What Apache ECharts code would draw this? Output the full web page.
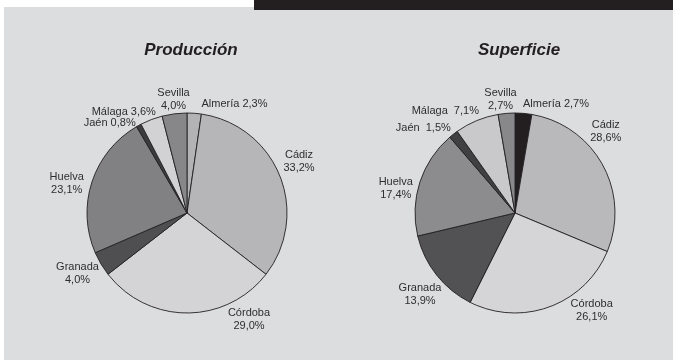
<!DOCTYPE html>
<html>
<head>
<meta charset="utf-8">
<script src="https://cdn.jsdelivr.net/npm/echarts@6/dist/echarts.min.js"></script>
<style>
html,body{margin:0;padding:0;background:#ffffff;}
#chart{width:673px;height:360px;}
</style>
</head>
<body>
<div id="chart"></div>
<script>
// ---- data ----
var provincias = ['Almería', 'Cádiz', 'Córdoba', 'Granada', 'Huelva', 'Jaén', 'Málaga', 'Sevilla'];
var produccion = [2.3, 33.2, 29.0, 4.0, 23.1, 0.8, 3.6, 4.0];
var superficie = [2.7, 28.6, 26.1, 13.9, 17.4, 1.5, 7.1, 2.7];
var titulos = ['Producción', 'Superficie'];

// ---- styles ----
var coloresProd = ['#b3b3b6', '#b6b6b9', '#d4d4d6', '#4f4f51', '#818184', '#3c3c3e', '#d2d2d4', '#87878a'];
var coloresSup  = ['#231f20', '#b9b9bc', '#d5d5d7', '#525254', '#8c8c8f', '#404042', '#c9c9cb', '#88888b'];
// label separators (one line / two lines)
var sepProd = [' ', '\n', '\n', '\n', '\n', ' ', ' ', '\n'];
var sepSup  = [' ', '\n', '\n', '\n', '\n', '  ', '  ', '\n'];
// label block centre offsets relative to pie centre (px)
var offProd = [[47.5,-109],[112,-52],[62,106],[-109.5,60.5],[-120.3,-29.5],[-77.3,-90],[-63.2,-101],[-13.5,-114]];
var offSup  = [[41,-109],[90.8,-81.5],[76.7,97.8],[-95,81],[-119.2,-24.3],[-91.7,-84.7],[-69.7,-102],[-14.5,-114]];
var centers = [[187, 213], [515, 213]];
var R = 100;

function fmt(v){ return v.toFixed(1).replace('.', ','); }

function buildData(vals, colors, seps){
  return provincias.map(function(n, i){
    return { name: n, value: vals[i], sep: seps[i], itemStyle: { color: colors[i] } };
  });
}

function makeSeries(idx, vals, colors, seps, offs){
  var c = centers[idx];
  return {
    type: 'pie',
    center: c,
    radius: [0, R],
    startAngle: 90,
    clockwise: true,
    avoidLabelOverlap: false,
    animation: false,
    silent: true,
    data: buildData(vals, colors, seps),
    itemStyle: { borderColor: '#231f20', borderWidth: 0.9 },
    label: {
      show: true,
      position: 'outside',
      color: '#2e2e2e',
      fontFamily: '"Liberation Sans Narrow", "Liberation Sans", Arial, sans-serif',
      fontSize: 11,
      lineHeight: 13,
      formatter: function(p){ return p.name + p.data.sep + fmt(p.value) + '%'; }
    },
    labelLine: { show: false, length: 2, length2: 0 },
    labelLayout: function(p){
      var o = offs[p.dataIndex];
      return { x: c[0] + o[0], y: c[1] + o[1], align: 'center', verticalAlign: 'middle' };
    }
  };
}

var chart = echarts.init(document.getElementById('chart'), null, { renderer: 'canvas' });
chart.setOption({
  backgroundColor: '#ffffff',
  animation: false,
  graphic: [
    { type: 'rect', shape: { x: 4, y: 7, width: 669, height: 353 }, style: { fill: '#dcdddf' }, z: -10 },
    { type: 'rect', shape: { x: 254, y: 0, width: 419, height: 10 }, style: { fill: '#231f20' }, z: -9 }
  ],
  title: [
    { text: titulos[0], left: 186, top: 37, textAlign: 'center',
      textStyle: { fontFamily: '"Liberation Sans", Arial, sans-serif', fontSize: 17, fontWeight: 'bold', fontStyle: 'italic', color: '#231f20' } },
    { text: titulos[1], left: 514, top: 37, textAlign: 'center',
      textStyle: { fontFamily: '"Liberation Sans", Arial, sans-serif', fontSize: 17, fontWeight: 'bold', fontStyle: 'italic', color: '#231f20' } }
  ],
  series: [
    makeSeries(0, produccion, coloresProd, sepProd, offProd),
    makeSeries(1, superficie, coloresSup, sepSup, offSup)
  ]
});
</script>
</body>
</html>
